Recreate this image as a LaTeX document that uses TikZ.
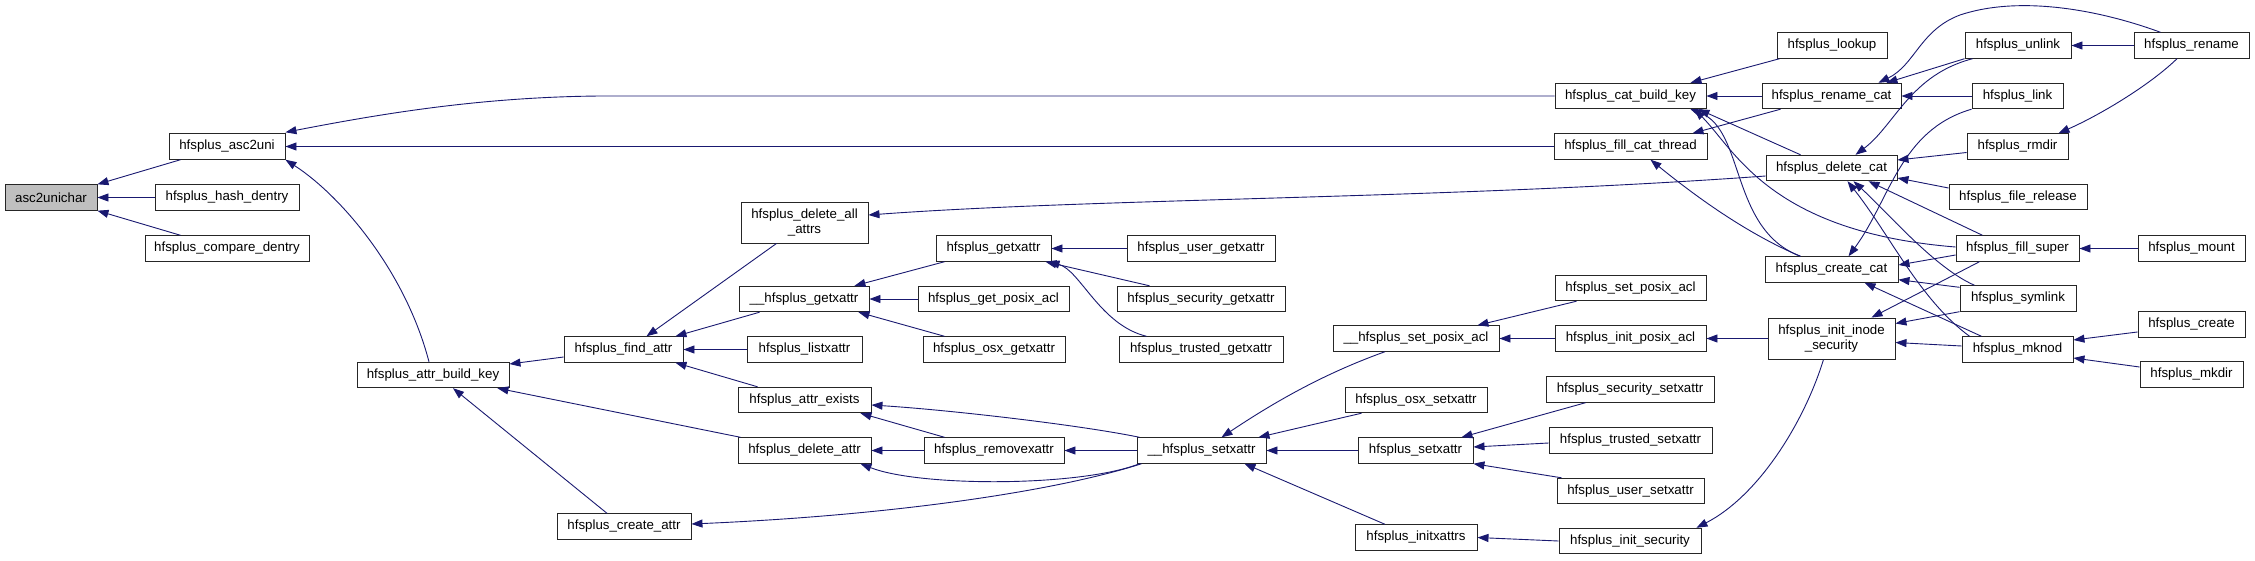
\documentclass[tikz,border=0pt]{standalone}
\usepackage{fontspec}
\setmainfont{Liberation Sans}
\usetikzlibrary{arrows.meta}
\definecolor{mb}{HTML}{191970}
\definecolor{gfill}{HTML}{BFBFBF}
\tikzset{
 nb/.style={draw=black!85, line width=0.9pt, fill=white, minimum height=25.5pt, inner sep=0pt, font=\fontsize{13.3}{15}\selectfont, align=center},
 nbtwo/.style={nb, minimum height=41pt},
 ln/.style={draw=mb, line width=0.9pt, {Triangle[length=11pt,width=8pt]}-},
}
\begin{document}
\begin{tikzpicture}[x=1pt,y=-1pt]
\useasboundingbox (0,0) rectangle (2255,560);
% column 0-1
\node[nb, fill=gfill, minimum width=92pt] (asc2unichar) at (51,197.5) {asc2unichar};
\node[nb, minimum width=116pt] (asc2uni) at (227,146.5) {hfsplus\_asc2uni};
\node[nb, minimum width=144pt] (hashd) at (227,197.5) {hfsplus\_hash\_dentry};
\node[nb, minimum width=164pt] (compd) at (227,248.5) {hfsplus\_compare\_dentry};
% column 2-3
\node[nb, minimum width=152pt] (attrbk) at (433,375) {hfsplus\_attr\_build\_key};
\node[nb, minimum width=119pt] (findattr) at (623.5,349.5) {hfsplus\_find\_attr};
\node[nb, minimum width=134pt] (createattr) at (624,526.5) {hfsplus\_create\_attr};
% column 4
\node[nbtwo, minimum width=127pt] (delallattrs) at (804.5,222.5) {hfsplus\_delete\_all\\\_attrs};
\node[nb, minimum width=130pt] (ugetx) at (804,299) {\_\_hfsplus\_getxattr};
\node[nb, minimum width=115pt] (listx) at (804.5,349.5) {hfsplus\_listxattr};
\node[nb, minimum width=133pt] (attrex) at (804.5,400) {hfsplus\_attr\_exists};
\node[nb, minimum width=133pt] (delattr) at (804.5,450.5) {hfsplus\_delete\_attr};
% column 5
\node[nb, minimum width=115pt] (getx) at (993.5,248.5) {hfsplus\_getxattr};
\node[nb, minimum width=151pt] (getposix) at (993.5,299) {hfsplus\_get\_posix\_acl};
\node[nb, minimum width=142pt] (osxget) at (994,349.5) {hfsplus\_osx\_getxattr};
\node[nb, minimum width=140pt] (removex) at (994,450.5) {hfsplus\_removexattr};
% column 6
\node[nb, minimum width=148pt] (userget) at (1201,248.5) {hfsplus\_user\_getxattr};
\node[nb, minimum width=168pt] (secget) at (1201,299) {hfsplus\_security\_getxattr};
\node[nb, minimum width=164pt] (trustget) at (1201,349.5) {hfsplus\_trusted\_getxattr};
\node[nb, minimum width=129pt] (usetx) at (1201.5,450.5) {\_\_hfsplus\_setxattr};
% column 7
\node[nb, minimum width=166pt] (usetposix) at (1416,338.5) {\_\_hfsplus\_set\_posix\_acl};
\node[nb, minimum width=142pt] (osxset) at (1416,400) {hfsplus\_osx\_setxattr};
\node[nb, minimum width=115pt] (setx) at (1415.5,450.5) {hfsplus\_setxattr};
\node[nb, minimum width=122pt] (initx) at (1416,537.5) {hfsplus\_initxattrs};
% column 8
\node[nb, minimum width=151pt] (catbk) at (1630.5,96) {hfsplus\_cat\_build\_key};
\node[nb, minimum width=153pt] (fillct) at (1630.5,146.5) {hfsplus\_fill\_cat\_thread};
\node[nb, minimum width=151pt] (setposix) at (1630.5,288) {hfsplus\_set\_posix\_acl};
\node[nb, minimum width=151pt] (initposix) at (1630.5,338.5) {hfsplus\_init\_posix\_acl};
\node[nb, minimum width=168pt] (secset) at (1630,389.5) {hfsplus\_security\_setxattr};
\node[nb, minimum width=163pt] (trustset) at (1630.5,440.5) {hfsplus\_trusted\_setxattr};
\node[nb, minimum width=147pt] (userset) at (1630.5,491) {hfsplus\_user\_setxattr};
\node[nb, minimum width=142pt] (initsec) at (1630,541) {hfsplus\_init\_security};
% column 9
\node[nb, minimum width=110pt] (lookup) at (1832,45.5) {hfsplus\_lookup};
\node[nb, minimum width=139pt] (renamecat) at (1831.5,96) {hfsplus\_rename\_cat};
\node[nb, minimum width=131pt] (delcat) at (1831.5,168) {hfsplus\_delete\_cat};
\node[nb, minimum width=133pt] (createcat) at (1831.5,269.5) {hfsplus\_create\_cat};
\node[nbtwo, minimum width=127pt] (initinode) at (1831.5,338.5) {hfsplus\_init\_inode\\\_security};
% column 10
\node[nb, minimum width=106pt] (unlink) at (2018,45.5) {hfsplus\_unlink};
\node[nb, minimum width=91pt] (link) at (2017.5,96) {hfsplus\_link};
\node[nb, minimum width=101pt] (rmdir) at (2017.5,146.5) {hfsplus\_rmdir};
\node[nb, minimum width=138pt] (filerel) at (2018,197) {hfsplus\_file\_release};
\node[nb, minimum width=123pt] (fillsuper) at (2017.5,248.5) {hfsplus\_fill\_super};
\node[nb, minimum width=116pt] (symlink) at (2018,298.5) {hfsplus\_symlink};
\node[nb, minimum width=111pt] (mknod) at (2017.5,349.5) {hfsplus\_mknod};
% column 11
\node[nb, minimum width=115pt] (rename) at (2191.5,45.5) {hfsplus\_rename};
\node[nb, minimum width=107pt] (mount) at (2191.5,248.5) {hfsplus\_mount};
\node[nb, minimum width=107pt] (create) at (2191.5,324.5) {hfsplus\_create};
\node[nb, minimum width=103pt] (mkdir) at (2191.5,374.5) {hfsplus\_mkdir};

% edges (arrow at callee)
\draw[ln] (asc2unichar.north east) -- ([xshift=12pt]asc2uni.south west);
\draw[ln] (asc2unichar.east) -- (hashd.west);
\draw[ln] (asc2unichar.south east) -- ([xshift=36pt]compd.north west);
\draw[ln] ([yshift=1pt]asc2uni.north east) .. controls (380,114) and (480,97) .. (600,96) -- (catbk.west);
\draw[ln] (asc2uni.east) -- (fillct.west);
\draw[ln] (asc2uni.south east) .. controls (340,195) and (405,270) .. ([xshift=-4pt]attrbk.north);
\draw[ln] ([yshift=11pt]attrbk.east) -- ([yshift=-7.5pt]findattr.west);
\draw[ln] ([xshift=-12pt]attrbk.south east) -- ([xshift=3pt]delattr.north west);
\draw[ln] ([xshift=20pt]attrbk.south) -- ([xshift=-17pt]createattr.north);
\draw[ln] ([xshift=23pt]findattr.north) -- ([xshift=-28pt]delallattrs.south);
\draw[ln] ([xshift=-8pt]findattr.north east) -- ([xshift=21pt]ugetx.south west);
\draw[ln] (findattr.east) -- (listx.west);
\draw[ln] ([xshift=-8pt]findattr.south east) -- ([xshift=20pt]attrex.north west);
\draw[ln] ([yshift=7.5pt]delallattrs.east) .. controls (1100,198) and (1450,199) .. ([yshift=-8pt]delcat.west);
\draw[ln] ([xshift=-15pt]ugetx.north east) -- ([xshift=9pt]getx.south west);
\draw[ln] (ugetx.east) -- (getposix.west);
\draw[ln] ([xshift=-11pt]ugetx.south east) -- ([xshift=22pt]osxget.north west);
\draw[ln] (getx.east) -- (userget.west);
\draw[ln] ([xshift=-6pt]getx.south east) -- ([xshift=33pt]secget.north west);
\draw[ln] ([xshift=-3pt]getx.south east) .. controls (1080,270) and (1100,325) .. ([xshift=28pt]trustget.north west);
\draw[ln] ([xshift=-11pt]attrex.south east) -- ([xshift=21pt]removex.north west);
\draw[ln] ([yshift=-5pt]attrex.east) .. controls (950,410) and (1080,425) .. ([xshift=3pt]usetx.north west);
\draw[ln] (delattr.east) -- (removex.west);
\draw[ln] ([xshift=-11pt]delattr.south east) .. controls (920,487) and (1080,487) .. ([xshift=3pt]usetx.south west);
\draw[ln] (removex.east) -- (usetx.west);
\draw[ln] ([yshift=2.5pt]createattr.east) .. controls (900,515) and (1060,490) .. ([xshift=5pt]usetx.south west);
\draw[ln] ([xshift=20pt]usetx.north) .. controls (1270,405) and (1320,375) .. ([xshift=-31pt]usetposix.south);
\draw[ln] ([xshift=-8pt]usetx.north east) -- ([xshift=17pt]osxset.south west);
\draw[ln] (usetx.east) -- (setx.west);
\draw[ln] ([xshift=-22pt]usetx.south east) -- ([xshift=-31pt]initx.north);
\draw[ln] ([xshift=-22pt]usetposix.north east) -- ([xshift=22pt]setposix.south west);
\draw[ln] (usetposix.east) -- (initposix.west);
\draw[ln] ([xshift=-12pt]setx.north east) -- ([xshift=40pt]secset.south west);
\draw[ln] ([yshift=3.5pt]setx.east) -- ([yshift=-2.5pt]trustset.west);
\draw[ln] (setx.south east) -- ([xshift=5pt]userset.north west);
\draw[ln] (initx.east) -- (initsec.west);
\draw[ln] (initposix.east) -- (initinode.west);
\draw[ln] ([xshift=-5pt]initsec.north east) .. controls (1760,495) and (1805,420) .. ([xshift=-8pt]initinode.south);
\draw[ln] ([xshift=-16pt]catbk.north east) -- ([xshift=3pt]lookup.south west);
\draw[ln] (catbk.east) -- (renamecat.west);
\draw[ln] ([xshift=-8pt]catbk.south east) -- ([xshift=35pt]delcat.north west);
\draw[ln] ([xshift=-16pt]catbk.south east) .. controls (1745,130) and (1730,230) .. ([xshift=36pt]createcat.north west);
\draw[ln] ([xshift=-12pt]catbk.south east) .. controls (1735,150) and (1770,232) .. ([yshift=1.5pt]fillsuper.west);
\draw[ln] ([xshift=-15pt]fillct.north east) -- ([xshift=19pt]renamecat.south west);
\draw[ln] ([xshift=20pt]fillct.south) .. controls (1700,200) and (1750,235) .. ([xshift=36pt]createcat.north west);
\draw[ln] ([xshift=24pt]delcat.north) .. controls (1895,125) and (1910,75) .. ([xshift=8pt]unlink.south west);
\draw[ln] ([xshift=-15pt]renamecat.north east) -- (unlink.south west);
\draw[ln] ([xshift=-23pt]renamecat.north east) .. controls (1915,65) and (1920,30) .. (1960,15) .. controls (2020,-5) and (2100,10) .. ([xshift=-31pt]rename.north);
\draw[ln] (renamecat.east) -- (link.west);
\draw[ln] (unlink.east) -- (rename.west);
\draw[ln] ([xshift=-10pt]rmdir.north east) .. controls (2100,115) and (2150,85) .. ([xshift=-14.5pt]rename.south);
\draw[ln] ([yshift=8pt]delcat.east) -- ([yshift=-6pt]rmdir.west);
\draw[ln] ([yshift=-10pt]delcat.east) -- ([yshift=9pt]filerel.west);
\draw[ln] ([xshift=17pt]createcat.north) .. controls (1890,200) and (1900,130) .. (link.south west);
\draw[ln] ([xshift=37pt]delcat.south) -- ([xshift=-35pt]fillsuper.north);
\draw[ln] ([yshift=4.5pt]createcat.east) -- ([yshift=-6.5pt]fillsuper.west);
\draw[ln] ([xshift=40pt]initinode.north) -- ([xshift=-38pt]fillsuper.south);
\draw[ln] (fillsuper.east) -- (mount.west);
\draw[ln] ([yshift=3pt]createcat.south east) -- ([yshift=-2pt]symlink.north west);
\draw[ln] ([yshift=15pt]initinode.east) -- (symlink.south west);
\draw[ln] ([yshift=-4pt]initinode.east) -- ([yshift=3.5pt]mknod.west);
\draw[ln] ([xshift=33pt]createcat.south) -- ([xshift=-36pt]mknod.north);
\draw[ln] ([xshift=22pt]delcat.south) .. controls (1890,215) and (1935,268) .. ([xshift=15pt]symlink.north west);
\draw[ln] ([xshift=16pt]delcat.south) .. controls (1890,235) and (1920,300) .. ([xshift=8pt]mknod.north west);
\draw[ln] ([yshift=9.5pt]mknod.east) -- ([yshift=-7.5pt]create.west);
\draw[ln] ([yshift=-8.5pt]mknod.east) -- ([yshift=7.5pt]mkdir.west);
\end{tikzpicture}
\end{document}
